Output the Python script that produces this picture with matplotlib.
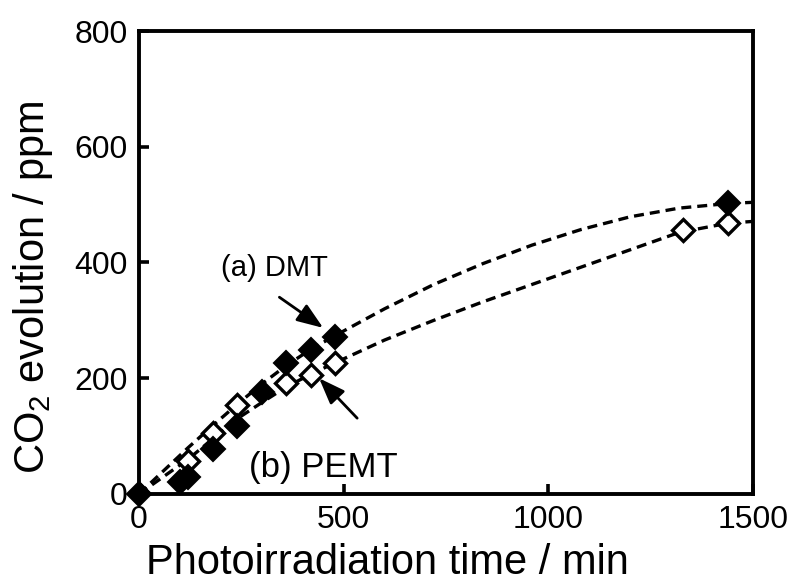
import matplotlib
matplotlib.use("Agg")
import matplotlib.pyplot as plt

plt.rcParams['font.family'] = ['Liberation Sans', 'DejaVu Sans']
plt.rcParams['mathtext.default'] = 'regular'

# (a) DMT, filled diamonds
dmt_t = [0, 100, 120, 180, 240, 300, 360, 420, 480, 1440]
dmt_v = [0, 20, 30, 78, 118, 177, 226, 248, 271, 503]
# (b) PEMT, open diamonds
pemt_t = [0, 120, 180, 240, 360, 420, 480, 1330, 1440]
pemt_v = [0, 57, 106, 153, 191, 205, 226, 457, 469]

# dashed guide curves
fit_t = [0, 60, 120, 180, 240, 300, 360, 420, 480, 600, 720, 840, 960, 1080, 1200, 1320, 1440, 1500]
dmt_fit = [0, 40, 80, 118, 155, 190, 222, 250, 274, 320, 362, 398, 430, 457, 479, 494, 502, 504]
pemt_fit = [0, 30, 60, 95, 130, 158, 185, 207, 227, 266, 300, 332, 362, 392, 422, 452, 468, 471]

fig = plt.figure(figsize=(7.96, 5.83), dpi=100)
ax = fig.add_axes([0.1746, 0.1527, 0.7714, 0.7941])

ax.plot(fit_t, dmt_fit, 'k--', lw=2.4, dashes=(3, 1.8), zorder=1)
ax.plot(fit_t, pemt_fit, 'k--', lw=2.4, dashes=(3, 1.8), zorder=1)
ax.plot(pemt_t, pemt_v, 'D', ms=11.5, mfc='white', mec='black', mew=2.4, ls='none', zorder=2)
ax.plot(dmt_t, dmt_v, 'D', ms=12, mfc='black', mec='black', mew=1.5, ls='none', zorder=3,
        clip_on=False)

ax.set_xlim(0, 1500)
ax.set_ylim(0, 800)
ax.set_xticks([0, 500, 1000, 1500])
ax.set_yticks([0, 200, 400, 600, 800])
ax.tick_params(direction='in', length=7.5, width=2.6, labelsize=23, pad=8,
               top=False, right=False)
for s in ax.spines.values():
    s.set_linewidth(2.8)

ax.set_xlabel('Photoirradiation time / min', fontsize=30)
ax.set_ylabel('CO$_2$ evolution / ppm', fontsize=30)
ax.xaxis.set_label_coords(0.405, -0.105)
ax.yaxis.set_label_coords(-0.137, 0.447)

arrow = dict(arrowstyle='-|>,head_length=0.8,head_width=0.3', mutation_scale=20,
             color='black', lw=2, shrinkA=0, shrinkB=0)
ax.text(330, 390, '(a) DMT', fontsize=21, ha='center', va='center')
ax.annotate('', xy=(450, 287), xytext=(343, 340), arrowprops=arrow)
ax.text(450, 45, '(b) PEMT', fontsize=25, ha='center', va='center')
ax.annotate('', xy=(440, 200), xytext=(533, 131), arrowprops=arrow)

fig.savefig('out.png', dpi=100)
